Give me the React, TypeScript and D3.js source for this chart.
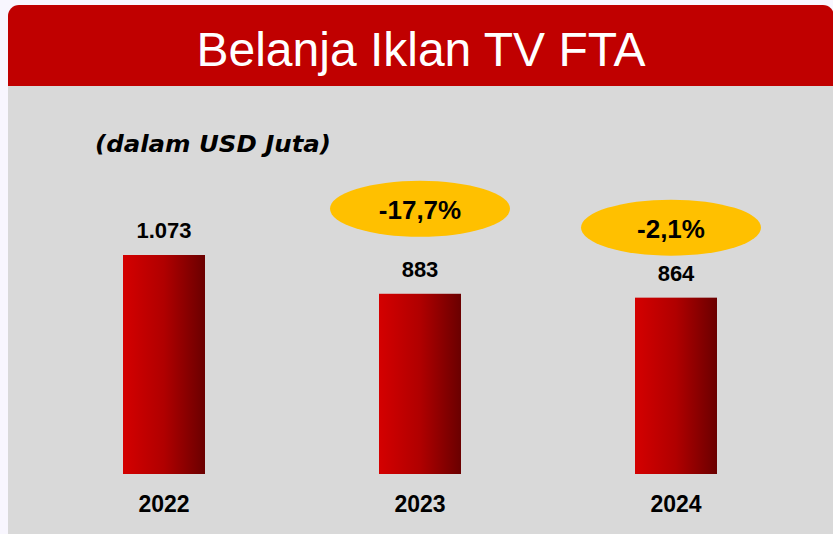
import React from "react";
import * as d3 from "d3";

const years = ["2022", "2023", "2024"];
const values = [1073, 883, 864];
const valueLabels = ["1.073", "883", "864"];
const changes = [null, "-17,7%", "-2,1%"];
const changeOffsets = [0, 85, 70];
const changeDx = [0, 0, -5];

const W = 833;
const H = 534;

export default function App() {
  const x = d3.scalePoint<string>().domain(years).range([164, 676]);
  const y = d3.scaleLinear().domain([0, 1073]).range([474, 255]);
  const barW = 82;

  const headerPath = (() => {
    const p = d3.path();
    const x0 = 8, y0 = 5, x1 = 834, y1 = 86, r = 11;
    p.moveTo(x0, y1);
    p.lineTo(x0, y0 + r);
    p.arcTo(x0, y0, x0 + r, y0, r);
    p.lineTo(x1 - r, y0);
    p.arcTo(x1, y0, x1, y0 + r, r);
    p.lineTo(x1, y1);
    p.closePath();
    return p.toString();
  })();

  return (
    <svg
      width={W}
      height={H}
      style={{ position: "absolute", left: 0, top: 0, display: "block" }}
      fontFamily="'Liberation Sans', Arial, sans-serif"
    >
      <defs>
        <linearGradient id="barGrad" x1="0" y1="0" x2="1" y2="0">
          <stop offset="0%" stopColor="#d40000" />
          <stop offset="50%" stopColor="#b00000" />
          <stop offset="100%" stopColor="#6a0000" />
        </linearGradient>
      </defs>
      <rect x={0} y={0} width={W} height={H} fill="#f8f6fe" />
      <rect x={8} y={86} width={W} height={H - 86} fill="#d9d9d9" />
      <path d={headerPath} fill="#c00000" />
      <text
        x={421}
        y={66}
        textAnchor="middle"
        fill="#ffffff"
        fontSize={48}
        textLength={449}
        lengthAdjust="spacingAndGlyphs"
      >
        Belanja Iklan TV FTA
      </text>
      <text
        x={95}
        y={152}
        fontFamily="'DejaVu Sans', Verdana, sans-serif"
        fontWeight="bold"
        fontStyle="italic"
        fontSize={23}
        textLength={236}
        lengthAdjust="spacingAndGlyphs"
        fill="#000"
      >
        (dalam USD Juta)
      </text>
      {years.map((yr, i) => {
        const cx = x(yr) as number;
        const top = y(values[i]);
        return (
          <g key={yr}>
            <rect x={cx - barW / 2} y={top} width={barW} height={y(0) - top} fill="url(#barGrad)" />
            <text x={cx} y={top - 17} textAnchor="middle" fontWeight="bold" fontSize={22} fill="#000">
              {valueLabels[i]}
            </text>
            <text x={cx} y={512} textAnchor="middle" fontWeight="bold" fontSize={23} fill="#000">
              {yr}
            </text>
            {changes[i] && (
              <g>
                <ellipse
                  cx={cx + changeDx[i]}
                  cy={top - changeOffsets[i]}
                  rx={90}
                  ry={28}
                  fill="#ffc000"
                />
                <text
                  x={cx + changeDx[i]}
                  y={top - changeOffsets[i] + 10}
                  textAnchor="middle"
                  fontWeight="bold"
                  fontSize={26}
                  fill="#000"
                >
                  {changes[i]}
                </text>
              </g>
            )}
          </g>
        );
      })}
    </svg>
  );
}
